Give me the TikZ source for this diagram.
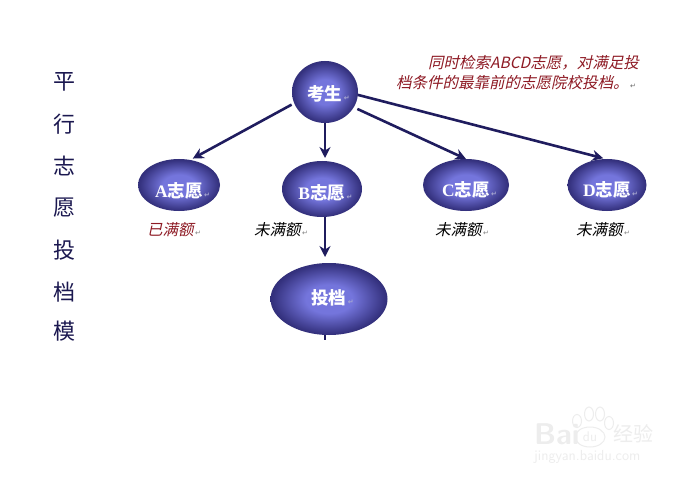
\documentclass[tikz,border=0pt]{standalone}
\usepackage{fontspec}
\usetikzlibrary{arrows.meta,shapes.geometric}
\setmainfont{Liberation Serif}
\newfontfamily\cjk{Noto Sans CJK SC}
\newfontfamily\cjkit[FakeSlant=0.22]{Noto Sans CJK SC}
\newfontfamily\dejav{DejaVu Sans}
\newcommand{\retmark}{\kern1.5pt{\dejav\fontsize{7}{7}\selectfont ↵}}
\newcommand{\orbtext}[2]{\makebox[0pt]{\kern7pt\raisebox{#1}{\smash{#2\textcolor{mark}{\retmark}}}}}
\definecolor{navy}{HTML}{1F1C5E}
\definecolor{deep}{HTML}{1B1850}
\definecolor{midb}{HTML}{35327F}
\definecolor{glow}{HTML}{7475DC}
\definecolor{redtxt}{HTML}{8E1A24}
\definecolor{mark}{HTML}{A8A8D0}
\definecolor{wm}{HTML}{EDEDED}
\pgfdeclareradialshading{orb}{\pgfpointorigin}{%
  color(0bp)=(glow); color(10bp)=(glow); color(24bp)=(midb); color(36bp)=(deep); color(50bp)=(deep)}
\tikzset{
  x=1pt,y=-1pt,
  ball/.style={ellipse,inner sep=0pt,outer sep=0pt,minimum width=#1,shading=orb,text=white,font=\fontsize{17.5}{18}\selectfont\bfseries},
  arr/.style={draw=navy,line width=2.6pt,-{Stealth[length=11pt,width=11pt]}},
  stub/.style={draw=navy,line width=2.6pt},
  note/.style={inner sep=0pt,anchor=west,font=\cjkit\fontsize{15.5}{16}\selectfont},
  title/.style={inner sep=0pt,text=deep,font=\cjk\fontsize{22}{22}\selectfont},
}
\begin{document}
\begin{tikzpicture}
\useasboundingbox (0,0) rectangle (695,481);
\fill[white] (0,0) rectangle (695,481);

% watermark
\node[inner sep=0pt,anchor=west,text=wm,font=\fontsize{30}{30}\selectfont\bfseries\sffamily] (wmb) at (534,434) {Bai};
\node[ellipse,draw=wm,line width=1pt,minimum width=30,minimum height=20,inner sep=0pt,text=wm,font=\fontsize{14}{14}\selectfont\sffamily] (wmd) at (590,437) {du};
\node[ellipse,draw=wm,line width=1pt,minimum width=9,minimum height=13,inner sep=0pt] (wmp1) at (577,421) {};
\node[ellipse,draw=wm,line width=1pt,minimum width=9,minimum height=14,inner sep=0pt] (wmp2) at (589,414) {};
\node[ellipse,draw=wm,line width=1pt,minimum width=9,minimum height=14,inner sep=0pt] (wmp3) at (600,414) {};
\node[ellipse,draw=wm,line width=1pt,minimum width=9,minimum height=13,inner sep=0pt] (wmp4) at (609,423) {};
\node[inner sep=0pt,anchor=west,text=wm,font=\cjk\fontsize{20}{20}\selectfont] (wmj) at (613,434) {经验};
\node[inner sep=0pt,anchor=west,text=wm,font=\fontsize{14.5}{15}\selectfont\sffamily] (wmu) at (534,457) {jingyan.baidu.com};

% title column
\node[title] (t1) at (64,82) {平};
\node[title] (t2) at (64,124) {行};
\node[title] (t3) at (64,166) {志};
\node[title] (t4) at (64,208) {愿};
\node[title] (t5) at (64,250) {投};
\node[title] (t6) at (64,292) {档};
\node[title] (t7) at (64,331) {模};

% ovals
\node[ball=66,minimum height=62] (kao) at (325,92) {\orbtext{-17pt}{\cjk 考生}};
\node[ball=82,minimum height=52] (a) at (179,185) {\orbtext{-25pt}{A\cjk 志愿}};
\node[ball=80,minimum height=56] (b) at (322,189) {\orbtext{-21pt}{B\cjk 志愿}};
\node[ball=86,minimum height=52] (c) at (466,185) {\orbtext{-24pt}{C\cjk 志愿}};
\node[ball=79,minimum height=52] (d) at (607,185) {\orbtext{-24pt}{D\cjk 志愿}};
\node[ball=117,minimum height=72] (tou) at (329,299) {\orbtext{-10pt}{\cjk 投档}};
\coordinate (tail) at (325,340);

% connectors
\draw[arr,shorten <=3pt,shorten >=3pt] (kao.200) -- (a.66);
\draw[arr,shorten >=3pt] (kao.south) -- (b.north -| kao.south);
\draw[arr,shorten <=4pt] (kao.-28) -- (c.90);
\draw[arr,shorten >=3pt] (kao.-5) -- (d.92);
\draw[arr,shorten >=6pt] (b.south -| tail) -- (tou.north -| tail);
\draw[stub] (tou.south -| tail) -- (tail);

% notes
\node[note,text=redtxt] (n1) at (428,63) {同时检索ABCD志愿，对满足投};
\node[note,text=redtxt] (n2) at (396,83) {档条件的最靠前的志愿院校投档。\textcolor{black!60}{\retmark}};
\node[note,text=redtxt] (la) at (147,230) {已满额\textcolor{black!50}{\retmark}};
\node[note,text=black] (lb) at (254,230) {未满额\textcolor{black!50}{\retmark}};
\node[note,text=black] (lc) at (435,230) {未满额\textcolor{black!50}{\retmark}};
\node[note,text=black] (ld) at (576,230) {未满额\textcolor{black!50}{\retmark}};
\end{tikzpicture}
\end{document}
